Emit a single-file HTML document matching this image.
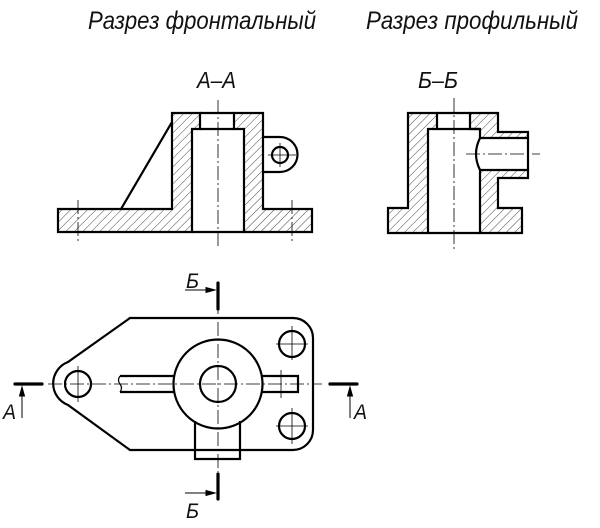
<!DOCTYPE html>
<html><head><meta charset="utf-8"><style>html,body{margin:0;padding:0;background:#fff}svg{display:block}</style></head>
<body>
<svg width="600" height="528" viewBox="0 0 600 528" xmlns="http://www.w3.org/2000/svg">
<defs>
<pattern id="h" patternUnits="userSpaceOnUse" width="6" height="6" patternTransform="rotate(45)">
<line x1="0" y1="0" x2="0" y2="6" stroke="#333" stroke-width="0.9"/>
</pattern>
</defs>
<g font-family="Liberation Sans, sans-serif" font-style="italic" fill="#111">
<text x="88" y="29" font-size="25" textLength="228" lengthAdjust="spacingAndGlyphs">Разрез фронтальный</text>
<text x="366" y="29" font-size="25" textLength="212" lengthAdjust="spacingAndGlyphs">Разрез профильный</text>
<text x="197" y="88" font-size="23" textLength="39" lengthAdjust="spacingAndGlyphs">А–А</text>
<text x="418" y="88" font-size="23" textLength="40" lengthAdjust="spacingAndGlyphs">Б–Б</text>
<text x="186" y="288" font-size="21" textLength="13" lengthAdjust="spacingAndGlyphs">Б</text>
<text x="186" y="518" font-size="21" textLength="13" lengthAdjust="spacingAndGlyphs">Б</text>
<text x="3" y="419" font-size="21" textLength="13" lengthAdjust="spacingAndGlyphs">А</text>
<text x="354" y="419" font-size="21" textLength="13" lengthAdjust="spacingAndGlyphs">А</text>
</g>

<!-- Front section -->
<g stroke="#000" stroke-width="2.2" fill="url(#h)" stroke-linejoin="miter">
<path d="M58,209 H172 V113 H200 V129 H192 V232 H58 Z"/>
<path d="M234,113 H263 V209 H312 V232 H244 V129 H234 Z"/>
</g>
<g stroke="#000" stroke-width="2.2" fill="none">
<path d="M200,113 H234 M200,129 H234 M192,232 H244"/>
<line x1="172" y1="122" x2="121" y2="209"/>
<path d="M263,137 H280 A17.5,17.5 0 0 1 280,172 H263"/>
<circle cx="280" cy="155" r="8"/>
</g>
<g stroke="#000" stroke-width="0.8" stroke-dasharray="14,3,2,3" fill="none">
<line x1="218" y1="100" x2="218" y2="248"/>
<line x1="78" y1="200" x2="78" y2="242"/>
<line x1="292" y1="200" x2="292" y2="242"/>
<line x1="268" y1="155" x2="296" y2="155" stroke-dasharray="none"/>
<line x1="280" y1="143" x2="280" y2="167" stroke-dasharray="none"/>
</g>

<!-- Profile section -->
<g stroke="#000" stroke-width="2.2" fill="url(#h)">
<path d="M388,208 H408 V113 H437 V129 H428 V233 H388 Z"/>
<path d="M470,113 H498 V132 H528 V138 H480 V129 H470 Z"/>
<path d="M480,170 H528 V178 H498 V208 H522 V233 H480 Z"/>
</g>
<g stroke="#000" stroke-width="2.2" fill="none">
<path d="M437,113 H470 M437,129 H480 M428,233 H480"/>
<path d="M480,138 Q472,154 480,170"/>
<line x1="528" y1="138" x2="528" y2="170"/>
</g>
<g stroke="#000" stroke-width="0.8" stroke-dasharray="14,3,2,3" fill="none">
<line x1="454" y1="98" x2="454" y2="250"/>
<line x1="466" y1="154" x2="540" y2="154"/>
</g>

<!-- Plan view -->
<g stroke="#000" stroke-width="2.2" fill="none">
<path d="M130,318 H293 A20,20 0 0 1 313,338 V430 A20,20 0 0 1 293,450 H130 L68,405 A23,23 0 0 1 68,362 Z"/>
<circle cx="78" cy="384" r="13"/>
<circle cx="292" cy="344" r="13"/>
<circle cx="292" cy="426" r="13"/>
<circle cx="218" cy="384" r="44.5" fill="#fff"/>
<circle cx="218" cy="384" r="18"/>
<path d="M174,376 H120 M174,392 H120"/>
<path d="M120,376 Q117,380 120,384 Q123,388 120,392" stroke-width="1.2"/>
<path d="M262,376 H298 V392 H262"/>
<path d="M195,421 V459 H240 V421"/>
</g>
<g stroke="#000" stroke-width="0.8" stroke-dasharray="14,3,2,3" fill="none">
<line x1="48" y1="384" x2="322" y2="384"/>
<line x1="218" y1="300" x2="218" y2="472"/>
<line x1="78" y1="366" x2="78" y2="402" stroke-dasharray="none"/>
<line x1="276" y1="344" x2="308" y2="344" stroke-dasharray="none"/>
<line x1="292" y1="326" x2="292" y2="360" stroke-dasharray="none"/>
<line x1="276" y1="426" x2="308" y2="426" stroke-dasharray="none"/>
<line x1="292" y1="408" x2="292" y2="444" stroke-dasharray="none"/>
<line x1="281" y1="370" x2="281" y2="398" stroke-dasharray="none"/>
</g>
<!-- section marks -->
<g stroke="#000" stroke-width="3.2" stroke-linecap="round">
<line x1="218" y1="283" x2="218" y2="309"/>
<line x1="218" y1="474" x2="218" y2="499"/>
<line x1="15" y1="384" x2="42" y2="384"/>
<line x1="330" y1="384" x2="357" y2="384"/>
</g>
<g stroke="#000" stroke-width="1" fill="#000">
<line x1="185" y1="290" x2="208" y2="290"/><path d="M215,290 L206,287.5 L206,292.5 Z"/>
<line x1="185" y1="493" x2="208" y2="493"/><path d="M215,493 L206,490.5 L206,495.5 Z"/>
<line x1="22" y1="418" x2="22" y2="394"/><path d="M22,387 L19.5,396 L24.5,396 Z"/>
<line x1="350" y1="418" x2="350" y2="394"/><path d="M350,387 L347.5,396 L352.5,396 Z"/>
</g>
</svg>
</body></html>
